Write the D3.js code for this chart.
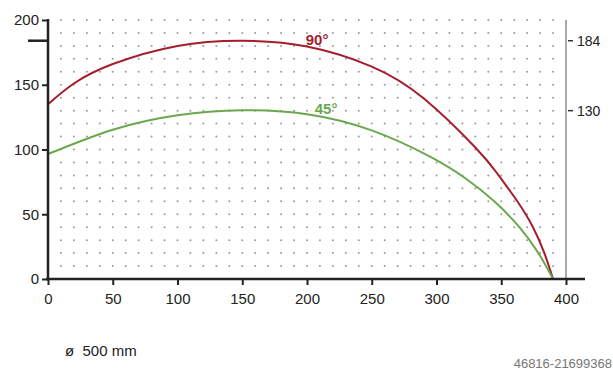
<!DOCTYPE html>
<html><head><meta charset="utf-8">
<script src="https://cdn.jsdelivr.net/npm/d3@7"></script>
<style>body{margin:0;background:#fff}svg{display:block}text{font-family:"Liberation Sans",Arial,sans-serif}</style>
</head><body><svg id="c" width="613" height="372"></svg>
<script>
const xTicks=[0,50,100,150,200,250,300,350,400];
const yTicks=[0,50,100,150,200];
const rightTicks=[184,130];
const redX=[0,20,50,100,150,200,250,290,330,347.3,362.4,374.5,383.3,390];
const redY=[135,151,166,180,184,179.5,164,139.5,101.5,81,60,40,20,0];
const greenX=[0,50,100,150,200,250,295,322,344.6,364,378.7,390];
const greenY=[96.5,115.3,126.5,130.3,127.3,114.8,94.5,78,60,40,20,0];
const seriesLabels=["90°","45°"];
const caption="ø  500 mm";
const stamp="46816-21699368";

const svg=d3.select("#c");
const x=d3.scaleLinear().domain([0,400]).range([48,566]);
const y=d3.scaleLinear().domain([0,200]).range([279,20]);

// dot grid
const gx=d3.range(10,400,10), gy=d3.range(10,201,10);
const dots=svg.append("g").attr("fill","#9a9a9a");
gy.forEach(vy=>gx.forEach(vx=>dots.append("circle").attr("cx",x(vx)).attr("cy",y(vy)).attr("r",1)));

// right gray axis
svg.append("line").attr("x1",x(400)).attr("x2",x(400)).attr("y1",y(200)).attr("y2",y(0)).attr("stroke","#8c8c8c").attr("stroke-width",1.5);
const ra=svg.append("g");
rightTicks.forEach(t=>{
  ra.append("line").attr("x1",x(400)+2).attr("x2",x(400)+7).attr("y1",y(t)).attr("y2",y(t)).attr("stroke","#333").attr("stroke-width",1.5);
  ra.append("text").attr("x",x(400)+11).attr("y",y(t)).attr("dy","0.35em").attr("font-size",14).attr("fill","#222").text(t);
});

// curves
const line=d3.line().x(d=>x(d[0])).y(d=>y(d[1])).curve(d3.curveNatural);
svg.append("path").datum(redX.map((v,i)=>[v,redY[i]])).attr("d",line).attr("fill","none").attr("stroke","#a51d2d").attr("stroke-width",2);
svg.append("path").datum(greenX.map((v,i)=>[v,greenY[i]])).attr("d",line).attr("fill","none").attr("stroke","#6aa84f").attr("stroke-width",2);

svg.append("text").attr("x",x(199)).attr("y",y(184)+4).attr("font-size",15).attr("font-weight","bold").attr("fill","#a51d2d").text(seriesLabels[0]);
svg.append("text").attr("x",x(206)).attr("y",y(130)+3).attr("font-size",15).attr("font-weight","bold").attr("fill","#6aa84f").text(seriesLabels[1]);

// axes
const ax=svg.append("g").attr("transform","translate(0,279)")
  .call(d3.axisBottom(x).tickValues(xTicks).tickSize(6).tickPadding(8));
ax.select(".domain").remove();
ax.selectAll("line").attr("stroke","#222").attr("stroke-width",2);
ax.selectAll("text").attr("font-size",15).attr("fill","#222").style("font-family","'Liberation Sans',Arial,sans-serif");
svg.append("line").attr("x1",46).attr("x2",585).attr("y1",279).attr("y2",279).attr("stroke","#222").attr("stroke-width",2.5);

const ay=svg.append("g").attr("transform","translate(48,0)")
  .call(d3.axisLeft(y).tickValues(yTicks).tickSize(6).tickPadding(3));
ay.select(".domain").remove();
ay.selectAll("line").attr("stroke","#222").attr("stroke-width",2);
ay.selectAll("text").attr("font-size",15).attr("fill","#222").style("font-family","'Liberation Sans',Arial,sans-serif");
svg.append("line").attr("x1",48).attr("x2",48).attr("y1",19).attr("y2",280).attr("stroke","#222").attr("stroke-width",2.5);
svg.append("line").attr("x1",28).attr("x2",48).attr("y1",y(184)).attr("y2",y(184)).attr("stroke","#222").attr("stroke-width",2.5);

svg.append("text").attr("x",65).attr("y",356).attr("font-size",15).attr("fill","#222").style("white-space","pre").text(caption);
svg.append("text").attr("x",612).attr("y",368).attr("text-anchor","end").attr("font-size",13).attr("fill","#777").text(stamp);
</script></body></html>
